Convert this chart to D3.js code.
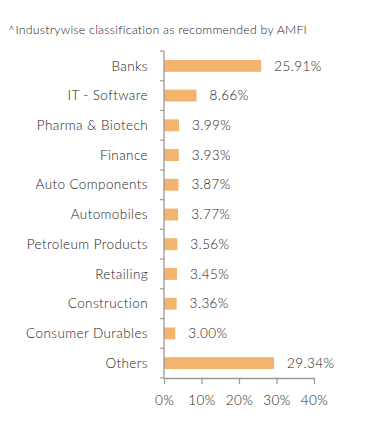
<!DOCTYPE html>
<html>
<head>
<meta charset="utf-8">
<script src="https://cdn.jsdelivr.net/npm/d3@7"></script>
<style>
html,body{margin:0;padding:0;background:#fff;}
svg{display:block;}
text{font-family:Lato,"Open Sans",sans-serif;}
</style>
</head>
<body>
<svg id="chart" width="391" height="435"></svg>
<script>
const title = "^Industrywise classification as recommended by AMFI";
const categories = ["Banks","IT - Software","Pharma & Biotech","Finance","Auto Components","Automobiles","Petroleum Products","Retailing","Construction","Consumer Durables","Others"];
const values = [25.91,8.66,3.99,3.93,3.87,3.77,3.56,3.45,3.36,3.00,29.34];
const xTicks = [0,10,20,30,40];

const svg = d3.select("#chart");
const margin = {left:164, right:77, top:51, bottom:57};
const W = 391, H = 435;
const FS = 13.5, LS = 0.4, FW = 300, TC = "#1a1a1a";

const x = d3.scaleLinear().domain([0,40]).range([margin.left, W - margin.right]);
const y = d3.scaleBand().domain(categories).range([margin.top, H - margin.bottom]).paddingInner(0.6).paddingOuter(0.3);

svg.append("text").attr("x",8).attr("y",34).attr("font-size",12.3).attr("letter-spacing",0.25).attr("fill",TC).attr("font-weight",FW).text(title);

// bars
svg.append("g").selectAll("rect").data(categories).join("rect")
  .attr("x", x(0))
  .attr("y", d => y(d))
  .attr("width", (d,i) => x(values[i]) - x(0))
  .attr("height", y.bandwidth())
  .attr("fill", "#F2B46E");

// value labels
svg.append("g").selectAll("text").data(categories).join("text")
  .attr("x", (d,i) => x(values[i]) + 13)
  .attr("y", d => y(d) + y.bandwidth()/2)
  .attr("dy","0.35em")
  .attr("font-size",FS)
  .attr("letter-spacing",LS)
  .attr("font-weight",FW)
  .attr("fill",TC)
  .text((d,i) => values[i].toFixed(2) + "%");

// y axis
const yAxisG = svg.append("g");
const y0 = margin.top, y1 = H - margin.bottom;
yAxisG.append("line").attr("x1",x(0)).attr("x2",x(0)).attr("y1",y0).attr("y2",y1).attr("stroke","#999").attr("stroke-width",1.3);
const boundaries = d3.range(0, categories.length + 1).map(i => y0 + i*(y1-y0)/categories.length);
yAxisG.selectAll("line.tk").data(boundaries).join("line").attr("class","tk")
  .attr("x1",x(0)-4).attr("x2",x(0)).attr("y1",d=>d).attr("y2",d=>d)
  .attr("stroke","#999").attr("stroke-width",1.2);
yAxisG.selectAll("text").data(categories).join("text")
  .attr("x", x(0) - 16)
  .attr("y", d => y(d) + y.bandwidth()/2)
  .attr("dy","0.35em")
  .attr("text-anchor","end")
  .attr("font-size",FS)
  .attr("letter-spacing",LS)
  .attr("font-weight",FW)
  .attr("fill",TC)
  .text(d => d);

// x axis
const xAxis = d3.axisBottom(x).tickValues(xTicks).tickFormat(d => d + "%").tickSize(6).tickSizeOuter(0);
const xg = svg.append("g").attr("transform",`translate(0,${y1})`).call(xAxis);
xg.select(".domain").attr("stroke","#999").attr("stroke-width",1.3);
xg.selectAll(".tick line").attr("stroke","#999").attr("stroke-width",1.2);
xg.selectAll(".tick text").attr("font-family","Lato, sans-serif").attr("font-size",FS).attr("letter-spacing",LS).attr("font-weight",FW).attr("fill",TC).attr("y",17);
</script>
</body>
</html>
